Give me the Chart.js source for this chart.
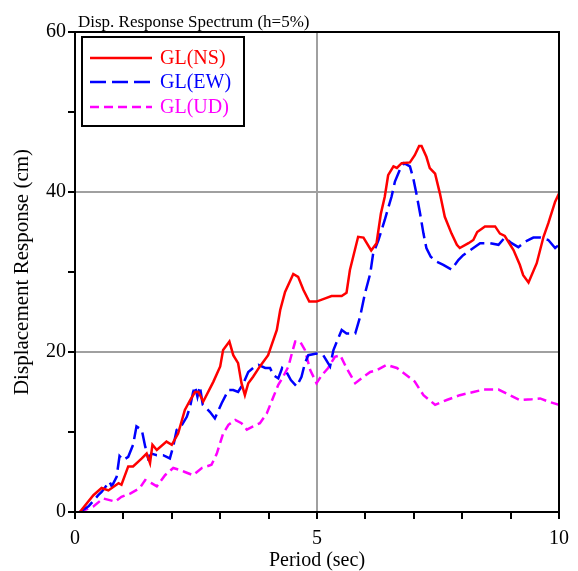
<!DOCTYPE html>
<html>
<head>
<meta charset="utf-8">
<script src="https://cdn.jsdelivr.net/npm/chart.js@4/dist/chart.umd.min.js"></script>
<style>
  html, body { margin: 0; padding: 0; background: #fff; }
  #c { display: block; }
</style>
</head>
<body>
<canvas id="c" width="578" height="571"></canvas>
<script>
// ---- Data ----
const chartTitle = 'Disp. Response Spectrum (h=5%)';
const xTitle = 'Period (sec)';
const yTitle = 'Displacement Response (cm)';
const seriesNames = ['GL(NS)', 'GL(EW)', 'GL(UD)'];

const nsPeriod = [0.1,0.38,0.55,0.69,0.9,0.96,1.1,1.2,1.38,1.48,1.55,1.6,1.69,1.89,2.0,2.13,2.27,2.38,2.48,2.55,2.65,2.86,3.0,3.06,3.19,3.27,3.37,3.44,3.51,3.58,3.68,3.82,3.99,4.17,4.24,4.34,4.51,4.61,4.72,4.84,4.99,5.17,5.3,5.51,5.61,5.68,5.85,5.96,6.12,6.23,6.32,6.4,6.47,6.58,6.65,6.75,6.92,7.02,7.11,7.16,7.26,7.33,7.44,7.54,7.64,7.78,7.89,7.95,8.13,8.23,8.31,8.47,8.68,8.78,8.88,9.06,9.19,9.26,9.37,9.54,9.68,9.78,9.92,10.0];
const nsDisp   = [0,2.1,3.0,2.7,3.6,3.4,5.7,5.7,6.7,7.3,6.1,8.4,7.75,8.8,8.4,9.8,12.75,14,15,15,13.8,16.3,18.2,20.25,21.3,19.6,18.6,16.1,14.6,16.1,16.9,18.2,19.6,22.75,25.25,27.5,29.75,29.4,27.75,26.3,26.3,26.7,27.0,27.0,27.4,30.25,34.4,34.3,32.7,33.6,37.3,39.4,42.1,43.2,43.0,43.6,43.7,44.6,45.75,45.75,44.4,43.0,42.3,39.8,36.9,34.8,33.4,33.0,33.6,34.0,35.0,35.7,35.7,34.8,34.5,32.75,30.9,29.6,28.7,31.1,34.4,36.1,38.8,39.8];

const ewPeriod = [0.1,0.28,0.48,0.55,0.71,0.76,0.86,0.92,1.0,1.1,1.2,1.27,1.38,1.45,1.51,1.58,1.69,1.82,1.96,2.03,2.1,2.17,2.31,2.38,2.44,2.48,2.53,2.58,2.64,2.79,2.89,3.03,3.17,3.27,3.37,3.48,3.58,3.68,3.79,3.93,4.03,4.1,4.2,4.28,4.37,4.46,4.58,4.68,4.75,4.82,4.99,5.13,5.27,5.34,5.51,5.61,5.79,5.89,5.99,6.1,6.16,6.27,6.4,6.47,6.54,6.61,6.71,6.8,6.92,6.99,7.06,7.13,7.2,7.26,7.35,7.47,7.61,7.78,7.92,8.02,8.23,8.37,8.57,8.75,8.88,9.02,9.16,9.3,9.47,9.61,9.78,9.92,10.0];
const ewDisp   = [0,0.7,2.1,2.5,3.8,3.2,4.4,7.0,6.5,6.9,8.4,10.7,10.25,8.2,6.7,7.3,7.1,7.1,6.7,8.2,10.25,10.5,11.9,13.2,15.0,15.7,14.4,15.7,13.4,12.5,11.7,13.6,15.25,15.25,15.0,16.1,17.5,18.0,18.4,18.0,18.0,17.1,16.7,18.0,17.5,16.5,15.7,16.9,18.6,19.6,19.8,19.6,18.2,20.25,22.75,22.3,22.3,24.4,27.3,29.8,32.3,34,36.5,38.0,39.4,41.3,42.75,43.6,43.2,41.7,39.6,37.3,34.8,33.0,31.9,31.3,30.9,30.3,31.5,32.1,33.0,33.6,33.6,33.4,34.3,33.6,33.1,33.8,34.3,34.3,34.0,33.0,33.4];

const udPeriod = [0.1,0.38,0.58,0.83,0.96,1.14,1.34,1.45,1.58,1.69,1.86,2.03,2.17,2.27,2.44,2.62,2.82,2.93,3.06,3.17,3.31,3.44,3.55,3.68,3.82,3.96,4.1,4.2,4.3,4.41,4.48,4.55,4.65,4.75,4.86,4.99,5.1,5.23,5.37,5.48,5.61,5.79,5.92,6.1,6.23,6.44,6.65,6.85,7.02,7.2,7.44,7.68,7.95,8.23,8.44,8.75,8.99,9.19,9.44,9.61,9.78,10.0];
const udDisp   = [0,0.7,1.7,1.3,1.9,2.3,3.0,4.0,3.6,3.2,4.6,5.5,5.25,5.0,4.6,5.5,5.9,7.3,9.8,10.9,11.5,11.1,10.3,10.7,11.1,12.3,14.4,15.9,16.9,18.2,19.8,21.3,21.3,20.25,17.75,16.1,17.1,18.0,19.4,19.6,18.0,16.1,16.7,17.5,17.7,18.4,18.0,17.1,16.3,14.6,13.4,14.0,14.6,15.0,15.3,15.3,14.6,14.0,14.1,14.2,13.8,13.4];

const xTickLabels = [0, 5, 10];
const yTickLabels = [0, 20, 40, 60];
const xGridValues = [5];
const yGridValues = [20, 40];

// ---- Styles ----
const colors = ['#ff0000', '#0000ff', '#ff00ff'];
const dashes = [[], [16, 6], [9, 5]];
const SERIF = '"Liberation Serif", "Times New Roman", serif';

function toPoints(xs, ys) { return xs.map((x, i) => ({ x: x, y: ys[i] })); }

const datasets = [
  { label: seriesNames[0], data: toPoints(nsPeriod, nsDisp) },
  { label: seriesNames[1], data: toPoints(ewPeriod, ewDisp) },
  { label: seriesNames[2], data: toPoints(udPeriod, udDisp) }
].map((d, i) => Object.assign(d, {
  borderColor: colors[i],
  backgroundColor: colors[i],
  borderWidth: 2.5,
  borderDash: dashes[i],
  pointRadius: 0,
  tension: 0,
  fill: false
}));

const framePlugin = {
  id: 'frame',
  afterDatasetsDraw(chart) {
    const { ctx, chartArea: a } = chart;
    ctx.save();
    ctx.strokeStyle = '#000';
    ctx.lineWidth = 2;
    ctx.setLineDash([]);
    ctx.strokeRect(a.left, a.top, a.right - a.left, a.bottom - a.top);

    // legend box
    const bx = 82, by = 37, bw = 162, bh = 89;
    ctx.fillStyle = '#fff';
    ctx.fillRect(bx, by, bw, bh);
    ctx.strokeRect(bx, by, bw, bh);
    const rows = [58, 82, 107];
    ctx.font = '20px ' + SERIF;
    ctx.textBaseline = 'middle';
    ctx.textAlign = 'left';
    seriesNames.forEach((n, i) => {
      ctx.strokeStyle = colors[i];
      ctx.lineWidth = 2.5;
      ctx.setLineDash(dashes[i]);
      ctx.beginPath();
      ctx.moveTo(90, rows[i]);
      ctx.lineTo(152, rows[i]);
      ctx.stroke();
      ctx.fillStyle = colors[i];
      ctx.fillText(n, 160, rows[i] + 1);
    });
    ctx.setLineDash([]);

    // chart title
    ctx.fillStyle = '#000';
    ctx.font = '17px ' + SERIF;
    ctx.textBaseline = 'alphabetic';
    ctx.fillText(chartTitle, 78, 27);
    ctx.restore();
  }
};

new Chart(document.getElementById('c'), {
  type: 'line',
  data: { datasets: datasets },
  plugins: [framePlugin],
  options: {
    responsive: false,
    animation: false,
    devicePixelRatio: 1,
    layout: { padding: { top: 32, right: 19, left: 0, bottom: 0 } },
    plugins: { legend: { display: false }, tooltip: { enabled: false }, title: { display: false } },
    scales: {
      x: {
        type: 'linear', min: 0, max: 10,
        afterFit(s) { s.height = 59; },
        ticks: {
          stepSize: 1, autoSkip: false, maxRotation: 0, padding: 8,
          color: '#000', font: { family: SERIF, size: 20 },
          callback: v => xTickLabels.includes(v) ? String(v) : ''
        },
        grid: {
          color: c => (c.tick && xGridValues.includes(c.tick.value)) ? '#a0a0a0' : 'rgba(0,0,0,0)',
          lineWidth: 2, tickColor: '#000', tickWidth: 2, tickLength: 7, drawTicks: true
        },
        border: { display: true, color: '#000', width: 2 },
        title: { display: true, text: xTitle, color: '#000', font: { family: SERIF, size: 20, lineHeight: 1 }, padding: { top: 0, bottom: 0 } }
      },
      y: {
        type: 'linear', min: 0, max: 60,
        afterFit(s) { s.width = 75; },
        ticks: {
          stepSize: 10, autoSkip: false, padding: 2,
          color: '#000', font: { family: SERIF, size: 20 },
          callback: v => yTickLabels.includes(v) ? String(v) : ''
        },
        grid: {
          color: c => (c.tick && yGridValues.includes(c.tick.value)) ? '#a0a0a0' : 'rgba(0,0,0,0)',
          lineWidth: 2, tickColor: '#000', tickWidth: 2, tickLength: 7, drawTicks: true
        },
        border: { display: true, color: '#000', width: 2 },
        title: { display: true, text: yTitle, color: '#000', font: { family: SERIF, size: 21, lineHeight: 1 }, padding: { top: 12, bottom: 0 } }
      }
    }
  }
});
</script>
</body>
</html>
